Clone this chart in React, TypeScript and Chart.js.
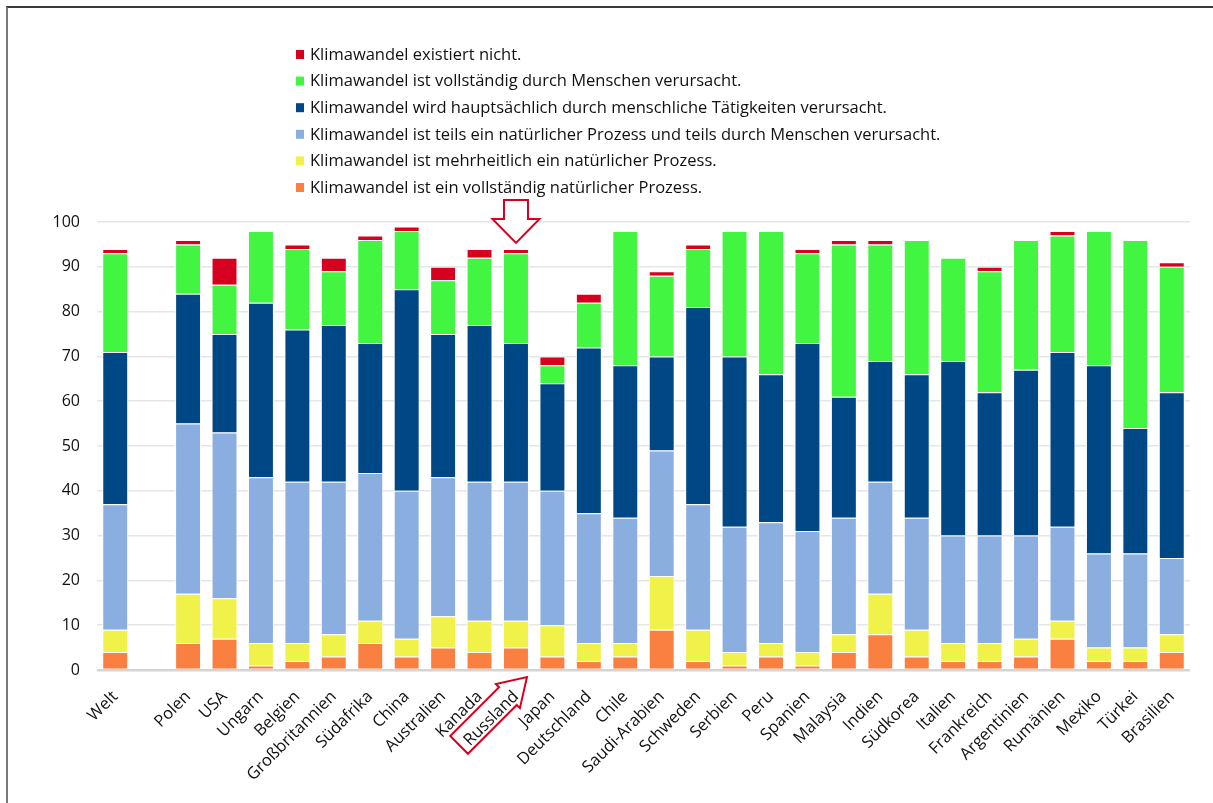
import React, { useEffect, useRef } from "react";
import { Chart, registerables } from "chart.js";

Chart.register(...registerables);

const categories = [
  "Welt", "", "Polen", "USA", "Ungarn", "Belgien", "Großbritannien", "Südafrika", "China",
  "Australien", "Kanada", "Russland", "Japan", "Deutschland", "Chile", "Saudi-Arabien",
  "Schweden", "Serbien", "Peru", "Spanien", "Malaysia", "Indien", "Südkorea", "Italien",
  "Frankreich", "Argentinien", "Rumänien", "Mexiko", "Türkei", "Brasilien",
];

const vollNatuerlich = [4, null, 6, 7, 1, 2, 3, 6, 3, 5, 4, 5, 3, 2, 3, 9, 2, 1, 3, 1, 4, 8, 3, 2, 2, 3, 7, 2, 2, 4];
const mehrNatuerlich = [5, null, 11, 9, 5, 4, 5, 5, 4, 7, 7, 6, 7, 4, 3, 12, 7, 3, 3, 3, 4, 9, 6, 4, 4, 4, 4, 3, 3, 4];
const teilsTeils = [28, null, 38, 37, 37, 36, 34, 33, 33, 31, 31, 31, 30, 29, 28, 28, 28, 28, 27, 27, 26, 25, 25, 24, 24, 23, 21, 21, 21, 17];
const hauptMensch = [34, null, 29, 22, 39, 34, 35, 29, 45, 32, 35, 31, 24, 37, 34, 21, 44, 38, 33, 42, 27, 27, 32, 39, 32, 37, 39, 42, 28, 37];
const vollMensch = [22, null, 11, 11, 16, 18, 12, 23, 13, 12, 15, 20, 4, 10, 30, 18, 13, 28, 32, 20, 34, 26, 30, 23, 27, 29, 26, 30, 42, 28];
const existiertNicht = [1, null, 1, 6, 0, 1, 3, 1, 1, 3, 2, 1, 2, 2, 0, 1, 1, 0, 0, 1, 1, 1, 0, 0, 1, 0, 1, 0, 0, 1];

const yTicks = [0, 10, 20, 30, 40, 50, 60, 70, 80, 90, 100];
const highlighted = "Russland";

const seriesLabels = [
  "Klimawandel ist ein vollständig natürlicher Prozess.",
  "Klimawandel ist mehrheitlich ein natürlicher Prozess.",
  "Klimawandel ist teils ein natürlicher Prozess und teils durch Menschen verursacht.",
  "Klimawandel wird hauptsächlich durch menschliche Tätigkeiten verursacht.",
  "Klimawandel ist vollständig durch Menschen verursacht.",
  "Klimawandel existiert nicht.",
];
const seriesColors = ["#F98040", "#F0F24A", "#8AAEE0", "#004785", "#41F541", "#D7001E"];
const seriesValues = [vollNatuerlich, mehrNatuerlich, teilsTeils, hauptMensch, vollMensch, existiertNicht];

const FONT = "'Open Sans', 'Noto Sans', sans-serif";
const RED = "#D7001E";

const overlayPlugin = {
  id: "overlay",
  afterDraw(chart: any) {
    const ctx = chart.ctx;
    const ds = chart.data.datasets;
    // legend (reverse order)
    ctx.save();
    ctx.font = `16.5px ${FONT}`;
    ctx.textBaseline = "middle";
    ctx.textAlign = "left";
    const lx = 296;
    let ly = 55;
    for (let i = ds.length - 1; i >= 0; i--) {
      ctx.fillStyle = ds[i].backgroundColor;
      ctx.fillRect(lx, ly - 5, 8, 9);
      ctx.fillStyle = "#111";
      ctx.fillText(ds[i].label, lx + 14, ly);
      ly += 26.6;
    }
    ctx.restore();

    // arrows around highlighted category
    const idx = chart.data.labels.indexOf(highlighted);
    if (idx < 0) return;
    const xs = chart.scales.x;
    const ys = chart.scales.y;
    const cx = xs.getPixelForValue(idx);
    let total = 0;
    for (const d of ds) total += d.data[idx] || 0;
    const tipY = ys.getPixelForValue(total) - 6;

    ctx.save();
    ctx.strokeStyle = RED;
    ctx.lineWidth = 2;
    ctx.lineJoin = "miter";
    // down arrow
    ctx.beginPath();
    ctx.moveTo(cx, tipY);
    ctx.lineTo(cx - 23.5, tipY - 24);
    ctx.lineTo(cx - 12, tipY - 24);
    ctx.lineTo(cx - 12, tipY - 43);
    ctx.lineTo(cx + 12, tipY - 43);
    ctx.lineTo(cx + 12, tipY - 24);
    ctx.lineTo(cx + 23.5, tipY - 24);
    ctx.closePath();
    ctx.fillStyle = "#fff";
    ctx.fill();
    ctx.stroke();

    // diagonal arrow around label
    const bx = cx + 11;
    const by = chart.chartArea.bottom + 7;
    ctx.translate(bx, by);
    ctx.rotate((135 * Math.PI) / 180);
    ctx.beginPath();
    ctx.moveTo(0, 0);
    ctx.lineTo(27, -17);
    ctx.lineTo(27, -12.5);
    ctx.lineTo(96, -12.5);
    ctx.lineTo(96, 12.5);
    ctx.lineTo(27, 12.5);
    ctx.lineTo(27, 17);
    ctx.closePath();
    ctx.stroke();
    ctx.restore();
  },
};

export default function App() {
  const ref = useRef<HTMLCanvasElement | null>(null);

  useEffect(() => {
    if (!ref.current) return;
    const chart = new Chart(ref.current, {
      type: "bar",
      data: {
        labels: categories,
        datasets: seriesValues.map((vals, i) => ({
          label: seriesLabels[i],
          data: vals,
          backgroundColor: seriesColors[i],
          borderColor: "#ffffff",
          borderWidth: 1,
          borderSkipped: "start",
          barPercentage: 0.8,
          categoryPercentage: 0.89,
        })),
      },
      options: {
        animation: false,
        responsive: true,
        maintainAspectRatio: false,
        layout: { padding: { top: 222, left: 50, right: 23, bottom: 0 } },
        plugins: {
          legend: { display: false },
          tooltip: { enabled: false },
        },
        scales: {
          x: {
            stacked: true,
            grid: { display: false },
            border: { display: false },
            ticks: {
              autoSkip: false,
              maxRotation: 45,
              minRotation: 45,
              padding: 9,
              color: "#111",
              font: { family: FONT, size: 16.5 },
            },
            afterFit(scale: any) {
              scale.height = 133;
            },
          },
          y: {
            stacked: true,
            min: 0,
            max: 100,
            afterBuildTicks(scale: any) {
              scale.ticks = yTicks.map((v) => ({ value: v }));
            },
            grid: {
              drawTicks: false,
              color: (c: any) => (c.tick && c.tick.value === 0 ? "#d4d4d4" : "#e6e6e6"),
              lineWidth: (c: any) => (c.tick && c.tick.value === 0 ? 2.5 : 1.5),
            },
            border: { display: false },
            ticks: {
              padding: 17,
              color: "#111",
              font: { family: FONT, size: 16 },
            },
            afterFit(scale: any) {
              scale.width = 47;
            },
          },
        },
      },
      plugins: [overlayPlugin],
    });
    return () => chart.destroy();
  }, []);

  return (
    <div style={{ position: "fixed", left: 0, top: 0, width: 1213, height: 803, background: "#fff" }}>
      <div
        style={{
          position: "absolute",
          left: 6,
          top: 6,
          width: 1300,
          height: 900,
          borderTop: "2px solid #3a3a3a",
          borderLeft: "2px solid #7a7a7a",
          pointerEvents: "none",
        }}
      />
      <canvas ref={ref} style={{ position: "absolute", left: 0, top: 0, width: 1213, height: 803 }} />
    </div>
  );
}
